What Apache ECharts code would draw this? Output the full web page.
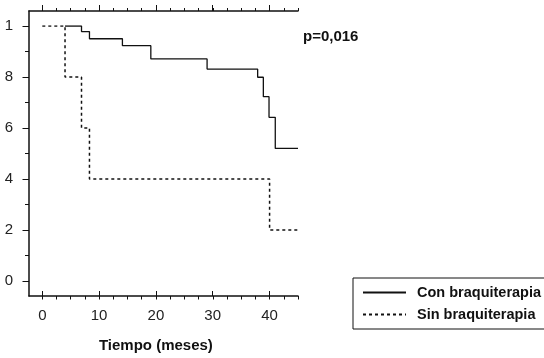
<!DOCTYPE html>
<html>
<head>
<meta charset="utf-8">
<script src="https://cdn.jsdelivr.net/npm/echarts@6/dist/echarts.min.js"></script>
<style>html,body{margin:0;padding:0;background:#fff;}#c{width:544px;height:358px;}</style>
</head>
<body>
<div id="c"></div>
<script>
// Data
var seriesNames = ['Con braquiterapia', 'Sin braquiterapia'];
// [time (months), survival after event]
var conBraqui = [[4, 1], [6.9, 0.978], [8.3, 0.95], [14.1, 0.923], [19.1, 0.871], [29.0, 0.831], [37.9, 0.799], [38.9, 0.723], [39.9, 0.642], [41.0, 0.52], [45, 0.52]];
var sinBraqui = [[0, 1], [4, 0.8], [6.9, 0.6], [8.3, 0.4], [40, 0.2], [45, 0.2]];
var xTickLabels = ['0', '10', '20', '30', '40'];
var yTickLabels = ['0', '2', '4', '6', '8', '1'];
var pValueText = 'p=0,016';
var xAxisName = 'Tiempo (meses)';

var FONT = 'Liberation Sans, Arial, Helvetica, sans-serif';
var ink = '#111';

function tickAxis(grid, pos, min, max, interval, len, extra) {
  var a = {gridIndex: grid, type: 'value', min: min, max: max, interval: interval, position: pos,
    axisLine: {show: true, onZero: false, lineStyle: {opacity: 0}},
    axisTick: {show: true, length: len, lineStyle: {color: ink, width: 1}},
    splitLine: {show: false},
    axisLabel: {show: false}};
  if (extra) { for (var k in extra) a[k] = extra[k]; }
  return a;
}
function lineAxis(grid, pos, show) {
  return {gridIndex: grid, type: 'value', min: 0, max: 1, position: pos, show: show,
    axisLine: {show: true, onZero: false, lineStyle: {color: ink, width: 1.5}},
    axisTick: {show: false}, axisLabel: {show: false}, splitLine: {show: false}};
}
function hidden(grid) { return {gridIndex: grid, type: 'value', min: 0, max: 1, show: false}; }

var chart = echarts.init(document.getElementById('c'), null, {renderer: 'canvas'});
chart.setOption({
  animation: false,
  backgroundColor: '#fff',
  grid: [
    {left: 42.3, right: 246, top: 26, bottom: 77},    // 0 series
    {left: 42.3, right: 274.5, top: 11, bottom: 62},  // 1 x major ticks (0..40)
    {left: 42.3, right: 246, top: 11, bottom: 62},    // 2 x minor ticks (0..45)
    {left: 29, right: 246, top: 26, bottom: 77},      // 3 y major ticks
    {left: 29, right: 246, top: 26, bottom: 77},      // 4 y minor ticks
    {left: 29, right: 246, top: 11, bottom: 62}       // 5 frame lines
  ],
  xAxis: [
    {gridIndex: 0, type: 'value', min: 0, max: 45, show: false},
    tickAxis(1, 'bottom', 0, 40, 10, 5, {
      axisLabel: {show: true, margin: 17, color: '#222', fontFamily: FONT, fontSize: 15,
        formatter: function (v) { return xTickLabels[Math.round(v / 10)]; }},
      name: xAxisName, nameLocation: 'middle', nameGap: 47,
      nameTextStyle: {fontFamily: FONT, fontSize: 15, fontWeight: 'bold', color: '#111'}
    }),
    tickAxis(1, 'top', 0, 40, 10, 6),
    tickAxis(2, 'bottom', 0, 45, 2.5, 3.5),
    tickAxis(2, 'top', 0, 45, 2.5, 3),
    hidden(3),
    hidden(4),
    lineAxis(5, 'bottom', true),
    lineAxis(5, 'top', true)
  ],
  yAxis: [
    {gridIndex: 0, type: 'value', min: 0, max: 1, show: false},
    hidden(1),
    hidden(2),
    tickAxis(3, 'left', 0, 1, 0.2, 6.5, {
      axisLabel: {show: true, margin: 16, color: '#222', fontFamily: FONT, fontSize: 15,
        formatter: function (v) { return yTickLabels[Math.round(v / 0.2)]; }}
    }),
    tickAxis(4, 'left', 0, 1, 0.1, 4),
    lineAxis(5, 'left', true)
  ],
  legend: {
    left: 353, top: 278, orient: 'vertical',
    data: seriesNames,
    itemWidth: 43, itemHeight: 14, itemGap: 7,
    padding: [7, 40, 7, 9],
    borderColor: '#111', borderWidth: 1,
    itemStyle: {opacity: 0},
    textStyle: {fontFamily: FONT, fontSize: 14.5, fontWeight: 'bold', color: '#111', padding: [0, 0, 0, 6]}
  },
  graphic: [
    {type: 'text', left: 303, top: 29,
      style: {text: pValueText, font: 'bold 15px ' + FONT, fill: '#111'}}
  ],
  series: [
    {name: seriesNames[0], type: 'line', xAxisIndex: 0, yAxisIndex: 0, step: 'end',
      symbol: 'none', data: conBraqui,
      lineStyle: {color: '#111', width: 1.3, type: 'solid'}, itemStyle: {color: '#111'}},
    {name: seriesNames[1], type: 'line', xAxisIndex: 0, yAxisIndex: 0, step: 'end',
      symbol: 'none', data: sinBraqui,
      lineStyle: {color: '#111', width: 1.5, type: [3, 3]}, itemStyle: {color: '#111'}}
  ]
});
</script>
</body>
</html>
